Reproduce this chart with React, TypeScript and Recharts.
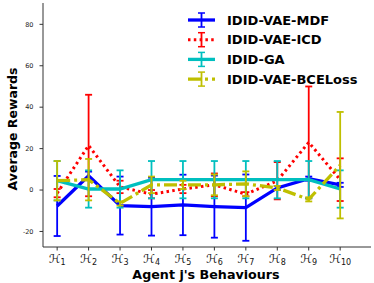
import { LineChart, Line, XAxis, YAxis, ErrorBar, Label } from 'recharts';

const behaviours = [1, 2, 3, 4, 5, 6, 7, 8, 9, 10];
const yTicks = [-20, 0, 20, 40, 60, 80];

const mdf = [-7.7, 6.9, -7.5, -8, -7.2, -8, -8.5, 1, 5.5, 2.5];
const mdfErr = [14.5, 2, 14, 14, 14.6, 15, 16, 1, 1, 1];
const icd = [-1.5, 21.5, 1.5, -2, 0.5, 2.5, -2, 4.5, 23, 5];
const icdErr = [2, 24.5, 3, 2, 2, 5.5, 1, 9, 27, 10.3];
const ga = [4.5, 0.5, 0.5, 5, 5, 5, 5, 5, 5, 0.5];
const gaErr = [9.5, 9, 9, 9, 9, 9, 9, 9, 9, 9];
const bce = [4.5, 5, -6.5, 2.5, 2.5, 2.5, 3, 1, -4.5, 12];
const bceErr = [9.5, 10, 1, 4, 2, 5, 6, 1, 1, 25.7];

const data = behaviours.map((b, i) => ({
  b,
  mdf: mdf[i],
  mdfErr: mdfErr[i],
  icd: icd[i],
  icdErr: icdErr[i],
  ga: ga[i],
  gaErr: gaErr[i],
  bce: bce[i],
  bceErr: bceErr[i],
}));

const series = [
  { key: 'mdf', name: 'IDID-VAE-MDF', color: '#0000ff', width: 3.3, dash: undefined },
  { key: 'icd', name: 'IDID-VAE-ICD', color: '#ff0000', width: 3, dash: '2.5 3.3' },
  { key: 'ga', name: 'IDID-GA', color: '#00bfbf', width: 3.3, dash: undefined },
  { key: 'bce', name: 'IDID-VAE-BCELoss', color: '#bfbf00', width: 3.3, dash: '13 4 3 4' },
];

const HTick = (props: any) => {
  const { x, y, payload } = props;
  return (
    <text x={x} y={y + 10} textAnchor="middle" fontFamily="DejaVu Sans" fontSize={12} fill="#111">
      ℋ
      <tspan fontSize={8} dy={2}>{payload.value}</tspan>
    </text>
  );
};

const LegendBox = () => (
  <svg width={374} height={283} style={{ position: 'absolute', left: 0, top: 0, pointerEvents: 'none' }}>
    {series.map((s, i) => {
      const y = 20 + i * 19.7;
      return (
        <g key={s.key}>
          <line x1={188} x2={215} y1={y} y2={y} stroke={s.color} strokeWidth={s.width} strokeDasharray={s.dash} />
          <line x1={201.5} x2={201.5} y1={y - 7} y2={y + 7} stroke={s.color} strokeWidth={1.8} />
          <line x1={198} x2={205} y1={y - 7} y2={y - 7} stroke={s.color} strokeWidth={1.5} />
          <line x1={198} x2={205} y1={y + 7} y2={y + 7} stroke={s.color} strokeWidth={1.5} />
          <text x={227} y={y} dominantBaseline="central" fontFamily="DejaVu Sans" fontWeight="bold" fontSize={13} fill="#000">
            {s.name}
          </text>
        </g>
      );
    })}
  </svg>
);

export default function App() {
  return (
    <div style={{ position: 'relative', width: 374, height: 283 }}>
      <style>{'body{margin:0}'}</style>
      <LineChart width={374} height={283} data={data} margin={{ top: 3, right: 3, left: 0, bottom: 0 }}>
        <XAxis
          dataKey="b"
          type="number"
          domain={[0.55, 10.98]}
          ticks={behaviours}
          allowDataOverflow
          height={36}
          tickSize={3.5}
          tickMargin={2}
          stroke="#333"
          tick={<HTick />}
        >
          <Label
            content={() => (
              <text x={206} y={274} textAnchor="middle" dominantBaseline="central" fontFamily="DejaVu Sans" fontWeight="bold" fontSize={12.7} fill="#000">
                Agent j's Behaviours
              </text>
            )}
          />
        </XAxis>
        <YAxis
          type="number"
          domain={[-27.5, 90.3]}
          ticks={yTicks}
          allowDataOverflow
          width={43}
          tickSize={3.5}
          tickMargin={6}
          stroke="#333"
          tick={{ fontSize: 6.5, fill: '#222', fontFamily: 'DejaVu Sans' }}
        >
          <Label
            content={() => (
              <text x={12} y={129} transform="rotate(-90 12 129)" textAnchor="middle" dominantBaseline="central" fontFamily="DejaVu Sans" fontWeight="bold" fontSize={12.5} fill="#000">
                Average Rewards
              </text>
            )}
          />
        </YAxis>
        {series.map((s) => (
          <Line
            key={s.key}
            dataKey={s.key}
            name={s.name}
            type="linear"
            stroke={s.color}
            strokeWidth={s.width}
            strokeDasharray={s.dash}
            dot={false}
            activeDot={false}
            isAnimationActive={false}
          >
            <ErrorBar dataKey={s.key + 'Err'} direction="y" width={3.5} strokeWidth={1.8} stroke={s.color} isAnimationActive={false} />
          </Line>
        ))}
      </LineChart>
      <LegendBox />
    </div>
  );
}
